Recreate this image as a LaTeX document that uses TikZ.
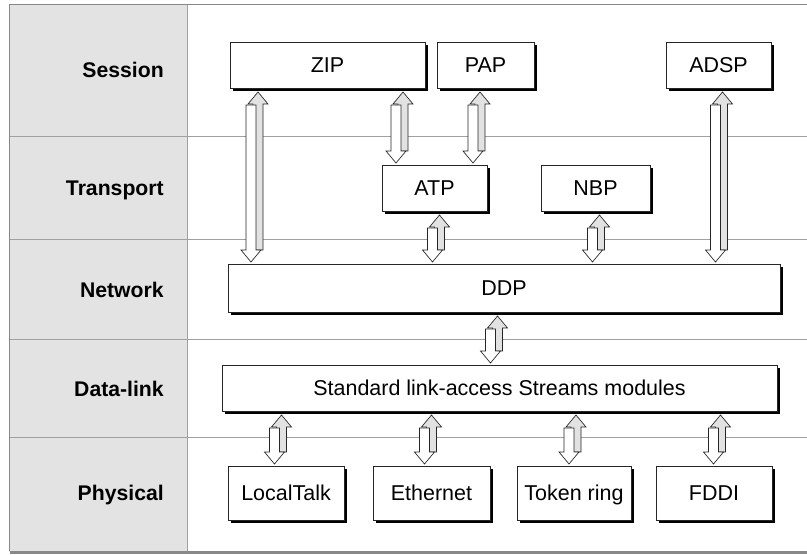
\documentclass[tikz,border=0pt]{standalone}
\usepackage{fontspec}
\setmainfont{Liberation Sans}
\usetikzlibrary{shadows,calc}
\definecolor{colgray}{HTML}{E3E3E3}
\definecolor{rulegray}{HTML}{A0A0A0}
\definecolor{framegray}{HTML}{888888}
\definecolor{arrfill}{HTML}{E2E2E2}
\newcommand\mybox[6]{\node[box, minimum width={(#4-#2)*0.75pt}, minimum height={(#5-#3)*0.75pt}] (#1) at ({(#2+#4)/2},{(#3+#5)/2}) {#6};}
\newcommand\duoarrow[3]{%
  \path[uparr] let \p1=(#2.south), \p2=(#3.north), \p3=(#1,0) in
    ({\x3+2.625pt},{\y1-3pt}) -- ({\x3+10.125pt},{\y1-12pt}) -- ({\x3+6.375pt},{\y1-12pt})
    -- ({\x3+6.375pt},{\y2+10.5pt}) -- ({\x3-1.125pt},{\y2+10.5pt}) -- ({\x3-1.125pt},{\y1-12pt})
    -- ({\x3-4.875pt},{\y1-12pt}) -- cycle;
  \path[dnarr] let \p1=(#2.south), \p2=(#3.north), \p3=(#1,0) in
    ({\x3-6.375pt},{\y1-12.75pt}) -- ({\x3+1.125pt},{\y1-12.75pt}) -- ({\x3+1.125pt},{\y2+10.5pt})
    -- ({\x3+4.875pt},{\y2+10.5pt}) -- ({\x3-2.625pt},{\y2+1.5pt}) -- ({\x3-10.125pt},{\y2+10.5pt})
    -- ({\x3-6.375pt},{\y2+10.5pt}) -- cycle;
}
\begin{document}
\begin{tikzpicture}[x=0.75pt,y=-0.75pt,
  box/.style={draw=black!85, line width=0.6pt, fill=white, inner sep=0pt, outer sep=0pt,
    text height=11.5pt, text depth=0pt, font=\fontsize{16.1}{19}\selectfont,
    general shadow={fill=black, shadow xshift=2.25pt, shadow yshift=-2.25pt}},
  lab/.style={anchor=base east, font=\fontsize{15.9}{19}\selectfont\bfseries, inner sep=0pt},
  uparr/.style={draw=black!85, line width=0.5pt, fill=arrfill, line join=miter},
  dnarr/.style={draw=black!85, line width=0.5pt, fill=white, line join=miter},
  rule/.style={draw=rulegray, line width=0.75pt}]
\useasboundingbox (0,0) rectangle (807,555);
% background
\fill[white] (0,0) rectangle (807,555);
\fill[colgray] (9,5) rectangle (187,552);
\foreach \yy in {137,240,340,438} \draw[rule] (9,\yy) -- (807,\yy);
\draw[rule] (187,5) -- (187,552);
\draw[framegray, line width=0.75pt] (807,5) -- (9,5) -- (9,551);
\draw[framegray, line width=2.2pt] (10,552.5) -- (807,552.5);
% layer labels
\node[lab] (lsession) at (164,78) {Session};
\node[lab] (ltransport) at (164,196) {Transport};
\node[lab] (lnetwork) at (164,297.5) {Network};
\node[lab] (ldatalink) at (164,397) {Data-link};
\node[lab] (lphysical) at (164,501) {Physical};
% boxes
\mybox{zip}{230}{42}{425}{88}{ZIP}
\mybox{pap}{437}{42}{534}{88}{PAP}
\mybox{adsp}{666}{42}{771}{88}{ADSP}
\mybox{atp}{382}{165}{487}{211}{ATP}
\mybox{nbp}{541}{165}{650}{211}{NBP}
\mybox{ddp}{228}{264}{780}{312}{DDP}
\mybox{std}{222}{365}{777}{411}{Standard link-access Streams modules}
\mybox{localtalk}{228}{466}{344}{520}{LocalTalk}
\mybox{ethernet}{373}{466}{490}{520}{Ethernet}
\mybox{token}{517}{466}{631}{520}{Token ring}
\mybox{fddi}{656}{466}{772}{520}{FDDI}
% arrows
\duoarrow{254.5}{zip}{ddp}
\duoarrow{399.5}{zip}{atp}
\duoarrow{476.5}{pap}{atp}
\duoarrow{719}{adsp}{ddp}
\duoarrow{436}{atp}{ddp}
\duoarrow{596}{nbp}{ddp}
\duoarrow{494}{ddp}{std}
\duoarrow{278}{std}{localtalk}
\duoarrow{428}{std}{ethernet}
\duoarrow{572.5}{std}{token}
\duoarrow{717}{std}{fddi}
\end{tikzpicture}
\end{document}
